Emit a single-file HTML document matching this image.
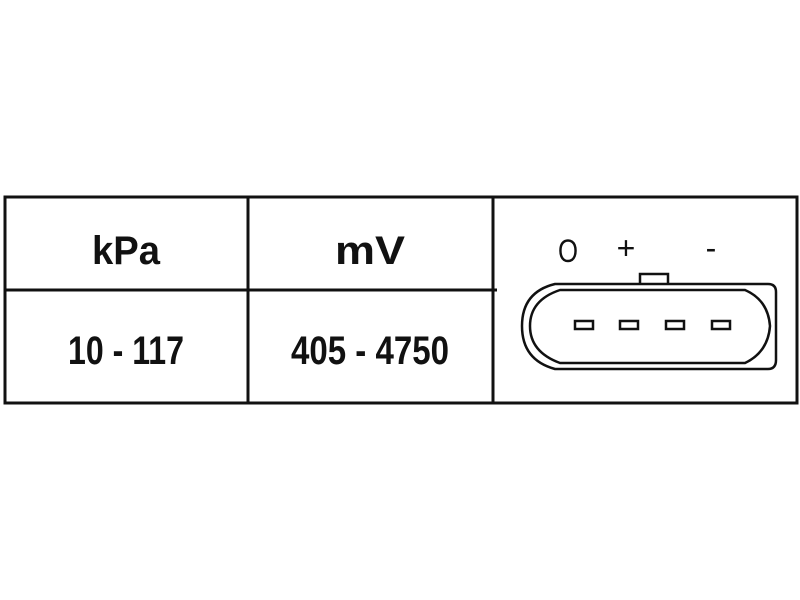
<!DOCTYPE html>
<html><head><style>html,body{margin:0;padding:0;background:#fff;}svg{display:block}</style></head>
<body>
<svg width="800" height="600" viewBox="0 0 800 600" xmlns="http://www.w3.org/2000/svg">
<g stroke="#111" stroke-width="3" fill="none">
<rect x="5" y="197" width="792" height="206"/>
<line x1="248" y1="197" x2="248" y2="403"/>
<line x1="493" y1="197" x2="493" y2="403"/>
<line x1="5" y1="290" x2="497" y2="290"/>
</g>
<g font-family="'Liberation Sans Narrow','Liberation Sans',sans-serif" font-weight="bold" fill="#111" text-anchor="middle">
<text x="126" y="264" font-size="40" textLength="68" lengthAdjust="spacingAndGlyphs">kPa</text>
<text x="370" y="264" font-size="40" textLength="70" lengthAdjust="spacingAndGlyphs">mV</text>
<text x="126" y="364" font-size="40" textLength="116" lengthAdjust="spacingAndGlyphs">10 - 117</text>
<text x="370" y="364" font-size="40" textLength="158" lengthAdjust="spacingAndGlyphs">405 - 4750</text>
</g>
<g font-family="'Liberation Sans Narrow','Liberation Sans',sans-serif" fill="#111" text-anchor="middle" font-size="32">
<text x="568" y="262" textLength="20" lengthAdjust="spacingAndGlyphs">O</text>
<text x="626" y="259">+</text>
<text x="711" y="259">-</text>
</g>
<g stroke="#111" stroke-width="2.5" fill="none">
<path d="M640 284 V274 H668 V284"/>
<path d="M555 284 H768 Q776 284 776 292 V360 Q776 369 768 369 H555 Q522 360 522 326 Q522 292 555 284 Z"/>
<path d="M560 290 H745 Q768 300 770 326 Q768 352 745 363 H560 Q530 352 530 326 Q530 300 560 290 Z"/>
<rect x="575" y="321" width="18" height="8"/>
<rect x="620" y="321" width="18" height="8"/>
<rect x="666" y="321" width="18" height="8"/>
<rect x="712" y="321" width="18" height="8"/>
</g>
</svg>
</body></html>
